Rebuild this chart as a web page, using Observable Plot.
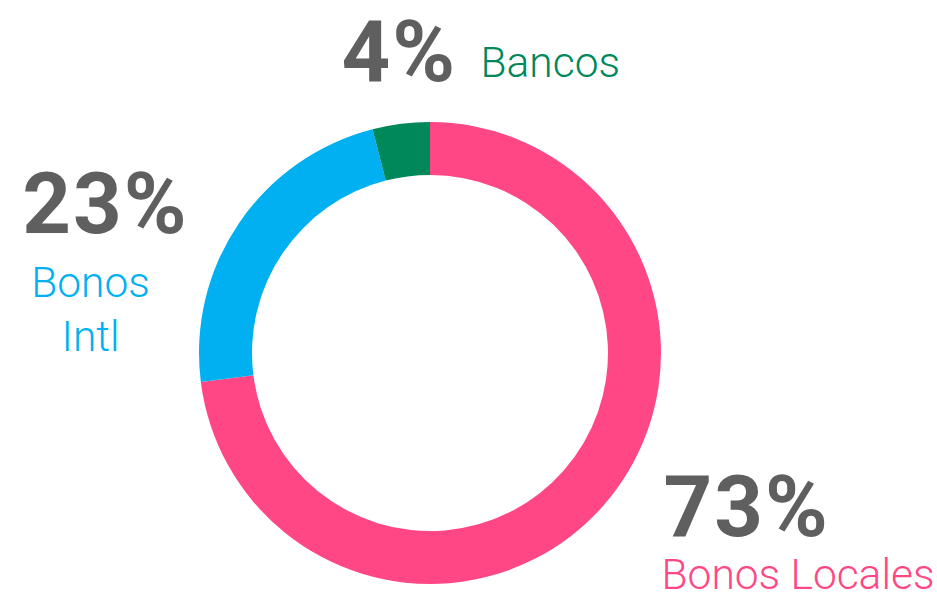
<!DOCTYPE html>
<html><head><meta charset="utf-8">
<script src="https://cdn.jsdelivr.net/npm/d3@7"></script>
<script src="https://cdn.jsdelivr.net/npm/@observablehq/plot@0.6"></script>
<style>html,body{margin:0;padding:0;background:#fff} svg{display:block}
g[font-weight="bold"] text{letter-spacing:2px}</style>
</head><body><div id="chart"></div>
<script>
// ---- data ----
const categories = ["Bonos Locales", "Bonos Intl", "Bancos"];
const shares = [73, 23, 4];
const percentLabels = ["73%", "23%", "4%"];
const nameLabels = ["Bonos Locales", "Bonos\nIntl", "Bancos"];
const colors = ["#FF4785", "#00B0F0", "#00885A"];

const data = categories.map((c, i) => ({category: c, share: shares[i], pct: percentLabels[i], name: nameLabels[i]}));

// ---- layout (pixels) ----
const W = 937, H = 597;
const center = [430, 353];
const rOuter = 231, rInner = 178;
const pctPos = {"Bonos Locales": [663, 535, "start"], "Bonos Intl": [105, 232, "middle"], "Bancos": [341, 80, "start"]};
const namePos = {"Bonos Locales": [661, 588, "start"], "Bonos Intl": [90, 350, "middle"], "Bancos": [480, 76, "start"]};

function donut(index, scales, values, dimensions, context) {
  const x0 = scales.x(center[0]), y0 = scales.y(center[1]);
  const ro = scales.x(center[0] + rOuter) - x0;
  const ri = scales.x(center[0] + rInner) - x0;
  const pie = d3.pie().sort(null).value(d => d.share)(data);
  const arc = d3.arc().innerRadius(ri).outerRadius(ro);
  const g = d3.create("svg:g").attr("transform", `translate(${x0},${y0})`);
  g.selectAll("path").data(pie).join("path")
    .attr("d", arc)
    .attr("fill", d => scales.color(d.data.category));
  return g.node();
}

const pctMark = (anchor) => Plot.text(data.filter(d => pctPos[d.category][2] === anchor), {
  x: d => pctPos[d.category][0], y: d => pctPos[d.category][1], text: "pct",
  textAnchor: anchor, lineAnchor: "bottom", fontSize: 85, fontWeight: "bold", fill: "#5f5f5f"
});
const nameMark = (anchor) => Plot.text(data.filter(d => namePos[d.category][2] === anchor), {
  x: d => namePos[d.category][0], y: d => namePos[d.category][1], text: "name",
  textAnchor: anchor, lineAnchor: "bottom", lineHeight: 1.25, fontSize: 42.5, fontWeight: 300, fill: "category"
});

const chart = Plot.plot({
  width: W, height: H, margin: 0,
  style: {fontFamily: "Roboto, sans-serif", background: "#fff"},
  x: {axis: null, domain: [0, W], range: [0, W]},
  y: {axis: null, domain: [0, H], range: [0, H]},
  color: {domain: categories, range: colors},
  marks: [
    donut,
    pctMark("start"), pctMark("middle"),
    nameMark("start"), nameMark("middle")
  ]
});
document.getElementById("chart").appendChild(chart);
</script>
</body></html>
